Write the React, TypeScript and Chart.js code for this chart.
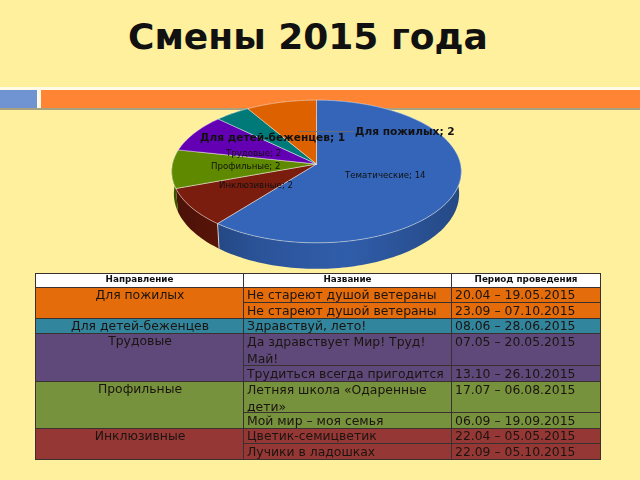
import React, { useEffect, useRef } from "react";
import { Chart, registerables } from "chart.js";

Chart.register(...registerables);

const titleText = "Смены 2015 года";
const categories = ["Тематические", "Инклюзивные", "Профильные", "Трудовые", "Для детей-беженцев", "Для пожилых"];
const values = [14, 2, 2, 2, 1, 2];
const sliceColors = ["#3465B9", "#7B1D0E", "#5F8A00", "#6400B4", "#007A78", "#DE6100"];

const labelSpots: [number, number, boolean][] = [
  [345, 176, false],
  [219, 186, false],
  [211, 167, false],
  [226, 154, false],
  [200, 138, true],
  [355, 132, true],
];

const headers = ["Направление", "Название", "Период проведения"];
const directions = ["Для пожилых", "Для детей-беженцев", "Трудовые", "Профильные", "Инклюзивные"];
const directionColors = ["#E46C0A", "#31859C", "#5F497A", "#76923C", "#953735"];
const rowSpans = [2, 1, 2, 2, 2];
const shiftNames = [
  "Не стареют душой ветераны",
  "Не стареют душой ветераны",
  "Здравствуй, лето!",
  "Да здравствует Мир! Труд! Май!",
  "Трудиться всегда пригодится",
  "Летняя школа «Одаренные дети»",
  "Мой мир – моя семья",
  "Цветик-семицветик",
  "Лучики в ладошках",
];
const shiftDates = [
  "20.04 – 19.05.2015",
  "23.09 – 07.10.2015",
  "08.06 – 28.06.2015",
  "07.05 – 20.05.2015",
  "13.10 – 26.10.2015",
  "17.07 – 06.08.2015",
  "06.09 – 19.09.2015",
  "22.04 – 05.05.2015",
  "22.09 – 05.10.2015",
];
const rowHeights = [15, 16, 15, 32, 16, 31, 16, 15, 16];

const TILT = 0.49;
const PERSP = 0.105;

function shade(hex: string, f: number) {
  const n = parseInt(hex.slice(1), 16);
  const c = [(n >> 16) & 255, (n >> 8) & 255, n & 255].map((v) => Math.round(v * f));
  return `rgb(${c[0]},${c[1]},${c[2]})`;
}

function project(arc: any, a: number, lower: boolean) {
  const u = Math.cos(a);
  const v = Math.sin(a);
  const w = 1 - PERSP * v;
  const R = arc.outerRadius * (lower ? 0.985 : 1);
  const x = arc.x + (R * u) / w;
  let y = arc.y + (arc.outerRadius * TILT * v) / w;
  if (lower) y += 22 + 4 * v;
  return [x, y];
}

function edge(arc: any, lower: boolean) {
  const pts: number[][] = [];
  const n = Math.max(8, Math.ceil((arc.endAngle - arc.startAngle) * 40));
  for (let i = 0; i <= n; i++) {
    pts.push(project(arc, arc.startAngle + ((arc.endAngle - arc.startAngle) * i) / n, lower));
  }
  return pts;
}

const pie3d = {
  id: "pie3d",
  beforeDatasetsDraw(chart: any) {
    const { ctx } = chart;
    const arcs = chart.getDatasetMeta(0).data;
    const colors = chart.data.datasets[0].backgroundColor;
    ctx.save();
    arcs.forEach((arc: any, i: number) => {
      const top = edge(arc, false);
      const low = edge(arc, true).reverse();
      const g = ctx.createLinearGradient(arc.x - arc.outerRadius, 0, arc.x + arc.outerRadius, 0);
      g.addColorStop(0, shade(colors[i], 0.6));
      g.addColorStop(0.3, shade(colors[i], 0.82));
      g.addColorStop(0.6, shade(colors[i], 0.92));
      g.addColorStop(1, shade(colors[i], 0.72));
      ctx.fillStyle = g;
      ctx.beginPath();
      [...top, ...low].forEach((p, k) => (k ? ctx.lineTo(p[0], p[1]) : ctx.moveTo(p[0], p[1])));
      ctx.closePath();
      ctx.fill();
    });
    arcs.forEach((arc: any, i: number) => {
      const top = edge(arc, false);
      ctx.fillStyle = colors[i];
      ctx.beginPath();
      ctx.moveTo(arc.x, arc.y);
      top.forEach((p) => ctx.lineTo(p[0], p[1]));
      ctx.closePath();
      ctx.fill();
      ctx.strokeStyle = "rgba(255,255,255,0.55)";
      ctx.lineWidth = 0.8;
      ctx.stroke();
    });
    const seam = arcs[0];
    const a = project(seam, seam.endAngle, false);
    const b = project(seam, seam.endAngle, true);
    ctx.strokeStyle = "rgba(255,255,255,0.7)";
    ctx.lineWidth = 1;
    ctx.beginPath();
    ctx.moveTo(a[0], a[1]);
    ctx.lineTo(b[0], b[1]);
    ctx.stroke();
    ctx.strokeStyle = "rgba(110,110,110,0.8)";
    ctx.lineWidth = 1;
    ctx.beginPath();
    ctx.moveTo(298, 131.5);
    ctx.lineTo(354, 131.5);
    ctx.stroke();
    ctx.textBaseline = "middle";
    ctx.textAlign = "left";
    ctx.fillStyle = "#111";
    labelSpots.forEach(([x, y, bold], i) => {
      ctx.font = bold ? "bold 10.6px 'DejaVu Sans'" : "8.6px 'DejaVu Sans'";
      ctx.fillText(`${categories[i]}; ${values[i]}`, x, y);
    });
    ctx.restore();
    return false;
  },
};

const cell: React.CSSProperties = {
  border: "1px solid #3a3030",
  padding: 0,
  verticalAlign: "top",
  overflow: "hidden",
};

function Inner({ h, center, children }: { h: number; center?: boolean; children: React.ReactNode }) {
  return (
    <div
      style={{
        height: h - 1,
        lineHeight: h > 20 ? "16.5px" : `${h - 1}px`,
        overflow: "hidden",
        padding: "0 2px 0 3px",
        textAlign: center ? "center" : "left",
      }}
    >
      {children}
    </div>
  );
}

export default function App() {
  const ref = useRef<HTMLCanvasElement>(null);
  useEffect(() => {
    const chart = new Chart(ref.current!, {
      type: "pie",
      data: {
        labels: categories,
        datasets: [{ data: values, backgroundColor: sliceColors, borderWidth: 0 }],
      },
      plugins: [pie3d],
      options: {
        animation: false,
        responsive: false,
        layout: { padding: { left: 172, right: 179, top: 20, bottom: 172 } },
        plugins: { legend: { display: false }, tooltip: { enabled: false } },
      },
    } as any);
    return () => chart.destroy();
  }, []);

  let rowIndex = 0;
  const rows: React.ReactNode[] = [];
  directions.forEach((d, di) => {
    for (let s = 0; s < rowSpans[di]; s++) {
      const idx = rowIndex++;
      const h = rowHeights[idx];
      rows.push(
        <tr key={idx} style={{ height: h, background: directionColors[di] }}>
          {s === 0 && (
            <td rowSpan={rowSpans[di]} style={cell}>
              <Inner h={15} center>{d}</Inner>
            </td>
          )}
          <td style={cell}><Inner h={h}>{shiftNames[idx]}</Inner></td>
          <td style={cell}><Inner h={h}>{shiftDates[idx]}</Inner></td>
        </tr>
      );
    }
  });

  return (
    <div style={{ position: "fixed", inset: 0, width: 640, height: 480, overflow: "hidden", background: "#FEF09C", fontFamily: "'DejaVu Sans'", filter: "blur(0.35px)" }}>
      <div style={{ position: "absolute", left: 128, top: 15, fontSize: 36, lineHeight: "44px", fontWeight: 700, color: "#111", whiteSpace: "nowrap" }}>{titleText}</div>
      <div style={{ position: "absolute", left: 0, top: 87, width: 640, height: 21, background: "#FFFBE6" }} />
      <div style={{ position: "absolute", left: 0, top: 89.5, width: 37, height: 18, background: "#7093D2" }} />
      <div style={{ position: "absolute", left: 41, top: 89.5, width: 599, height: 18, background: "#FF8534" }} />
      <div style={{ position: "absolute", left: 0, top: 107.5, width: 640, height: 2.5, background: "#A8A27E" }} />
      <canvas ref={ref} width={640} height={480} style={{ position: "absolute", left: 0, top: 0 }} />
      <table style={{ position: "absolute", left: 35, top: 273, width: 565, borderCollapse: "collapse", tableLayout: "fixed", fontSize: 12.4, color: "#1c1410" }}>
        <colgroup>
          <col style={{ width: 208 }} />
          <col style={{ width: 208 }} />
          <col style={{ width: 149 }} />
        </colgroup>
        <thead>
          <tr style={{ height: 14, background: "#fff" }}>
            {headers.map((h) => (
              <th key={h} style={{ ...cell, fontSize: 8.8, lineHeight: "11px", height: 13, textAlign: "center", color: "#111" }}>
                {h}
              </th>
            ))}
          </tr>
        </thead>
        <tbody>{rows}</tbody>
      </table>
    </div>
  );
}
